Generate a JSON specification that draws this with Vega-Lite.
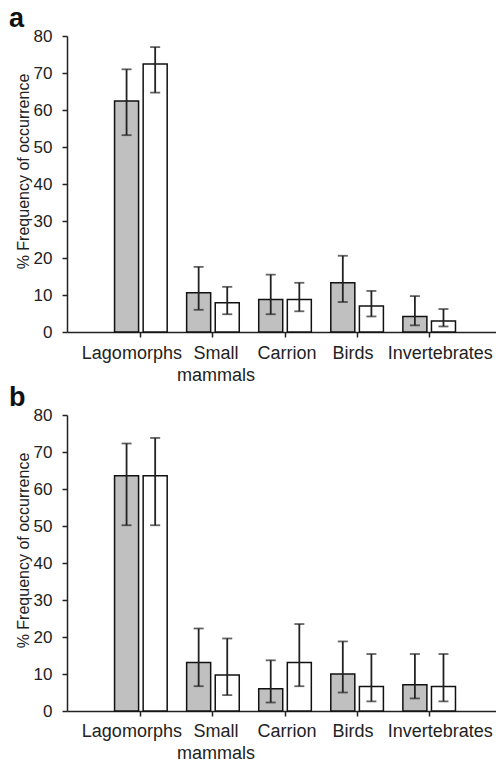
{
  "$schema": "https://vega.github.io/schema/vega-lite/v6.json",
  "padding": {"left": 9, "top": 5, "right": 0, "bottom": 0},
  "autosize": {"type": "pad"},
  "spacing": 0,
  "config": {
    "view": {"stroke": null},
    "font": "Liberation Sans",
    "axis": {"domainColor": "#222", "tickColor": "#222", "labelColor": "#222", "titleColor": "#222", "grid": false, "domainWidth": 1.5, "tickWidth": 1.5, "labelFont": "Liberation Sans", "titleFont": "Liberation Sans", "titleFontWeight": "normal", "labelOverlap": false},
    "axisY": {"tickCount": 10, "tickSize": 5, "labelFontSize": 17, "titleFontSize": 16, "labelPadding": 10, "titlePadding": 2, "labelOverlap": false, "titleY": 135},
    "title": {"anchor": "start", "fontSize": 27, "fontWeight": "bold", "font": "Liberation Sans", "color": "#111", "dx": -6, "offset": -6}
  },
  "datasets": {
    "d": [
      {"panel": "a", "cat": "Lagomorphs", "group": "grey", "value": 62.4, "lo": 53.2, "hi": 71.0},
      {"panel": "a", "cat": "Lagomorphs", "group": "white", "value": 72.4, "lo": 64.7, "hi": 77.0},
      {"panel": "a", "cat": "Small mammals", "group": "grey", "value": 10.6, "lo": 6.0, "hi": 17.6},
      {"panel": "a", "cat": "Small mammals", "group": "white", "value": 7.9, "lo": 4.8, "hi": 12.2},
      {"panel": "a", "cat": "Carrion", "group": "grey", "value": 8.8, "lo": 4.8, "hi": 15.5},
      {"panel": "a", "cat": "Carrion", "group": "white", "value": 8.8, "lo": 5.6, "hi": 13.3},
      {"panel": "a", "cat": "Birds", "group": "grey", "value": 13.3, "lo": 8.1, "hi": 20.6},
      {"panel": "a", "cat": "Birds", "group": "white", "value": 7.0, "lo": 4.2, "hi": 11.1},
      {"panel": "a", "cat": "Invertebrates", "group": "grey", "value": 4.2, "lo": 1.8, "hi": 9.7},
      {"panel": "a", "cat": "Invertebrates", "group": "white", "value": 3.0, "lo": 1.5, "hi": 6.2},
      {"panel": "b", "cat": "Lagomorphs", "group": "grey", "value": 63.6, "lo": 50.2, "hi": 72.3},
      {"panel": "b", "cat": "Lagomorphs", "group": "white", "value": 63.6, "lo": 50.2, "hi": 73.8},
      {"panel": "b", "cat": "Small mammals", "group": "grey", "value": 13.1, "lo": 6.7, "hi": 22.3},
      {"panel": "b", "cat": "Small mammals", "group": "white", "value": 9.7, "lo": 4.3, "hi": 19.6},
      {"panel": "b", "cat": "Carrion", "group": "grey", "value": 6.0, "lo": 2.3, "hi": 13.7},
      {"panel": "b", "cat": "Carrion", "group": "white", "value": 13.1, "lo": 6.7, "hi": 23.5},
      {"panel": "b", "cat": "Birds", "group": "grey", "value": 10.0, "lo": 5.0, "hi": 18.8},
      {"panel": "b", "cat": "Birds", "group": "white", "value": 6.6, "lo": 2.6, "hi": 15.4},
      {"panel": "b", "cat": "Invertebrates", "group": "grey", "value": 7.1, "lo": 3.4, "hi": 15.4},
      {"panel": "b", "cat": "Invertebrates", "group": "white", "value": 6.6, "lo": 2.6, "hi": 15.4}
    ]
  },
  "vconcat": [
    {
      "title": {"text": "a"},
      "width": 429, "height": 296,
      "data": {"name": "d"},
      "transform": [{"filter": "datum.panel == 'a'"}],
      "encoding": {
        "x": {"field": "cat", "type": "nominal", "sort": ["Lagomorphs", "Small mammals", "Carrion", "Birds", "Invertebrates"],
              "scale": {"paddingInner": 0.27, "paddingOuter": 0.611, "align": 0.54},
              "axis": {"title": null, "labelAngle": 0, "labelFontSize": 18, "labelExpr": "split(datum.label, ' ')", "tickSize": 5, "labelPadding": 7, "labelLineHeight": 22,
                       "labelOffset": {"condition": [{"test": "datum.value == 'Lagomorphs'", "value": -9}, {"test": "datum.value == 'Small mammals'", "value": 3}, {"test": "datum.value == 'Carrion'", "value": 2}, {"test": "datum.value == 'Birds'", "value": -4}], "value": 11}}},
        "xOffset": {"field": "group", "type": "nominal", "sort": ["grey", "white"], "scale": {"paddingInner": 0.16}}
      },
      "layer": [
        {"mark": {"type": "bar", "stroke": "#111", "strokeWidth": 1.5},
         "encoding": {
           "y": {"field": "value", "type": "quantitative", "scale": {"domain": [0, 80], "nice": false},
                 "axis": {"title": "% Frequency of occurrence", "values": [0, 10, 20, 30, 40, 50, 60, 70, 80]}},
           "fill": {"field": "group", "type": "nominal", "scale": {"domain": ["grey", "white"], "range": ["#c0c0c0", "#ffffff"]}, "legend": null}
         }},
        {"mark": {"type": "rule", "color": "#222", "strokeWidth": 1.8},
         "encoding": {"y": {"field": "lo", "type": "quantitative", "axis": {"title": "% Frequency of occurrence", "values": [0, 10, 20, 30, 40, 50, 60, 70, 80]}}, "y2": {"field": "hi"}}},
        {"mark": {"type": "tick", "color": "#222", "thickness": 1.8, "size": 10},
         "encoding": {"y": {"field": "lo", "type": "quantitative", "axis": {"title": "% Frequency of occurrence", "values": [0, 10, 20, 30, 40, 50, 60, 70, 80]}}}},
        {"mark": {"type": "tick", "color": "#222", "thickness": 1.8, "size": 10},
         "encoding": {"y": {"field": "hi", "type": "quantitative", "axis": {"title": "% Frequency of occurrence", "values": [0, 10, 20, 30, 40, 50, 60, 70, 80]}}}}
      ]
    },
    {
      "title": {"text": "b"},
      "width": 429, "height": 296,
      "data": {"name": "d"},
      "transform": [{"filter": "datum.panel == 'b'"}],
      "encoding": {
        "x": {"field": "cat", "type": "nominal", "sort": ["Lagomorphs", "Small mammals", "Carrion", "Birds", "Invertebrates"],
              "scale": {"paddingInner": 0.27, "paddingOuter": 0.611, "align": 0.54},
              "axis": {"title": null, "labelAngle": 0, "labelFontSize": 18, "labelExpr": "split(datum.label, ' ')", "tickSize": 5, "labelPadding": 6, "labelLineHeight": 22,
                       "labelOffset": {"condition": [{"test": "datum.value == 'Lagomorphs'", "value": -9}, {"test": "datum.value == 'Small mammals'", "value": 3}, {"test": "datum.value == 'Carrion'", "value": 2}, {"test": "datum.value == 'Birds'", "value": -4}], "value": 11}}},
        "xOffset": {"field": "group", "type": "nominal", "sort": ["grey", "white"], "scale": {"paddingInner": 0.16}}
      },
      "layer": [
        {"mark": {"type": "bar", "stroke": "#111", "strokeWidth": 1.5},
         "encoding": {
           "y": {"field": "value", "type": "quantitative", "scale": {"domain": [0, 80], "nice": false},
                 "axis": {"title": "% Frequency of occurrence", "values": [0, 10, 20, 30, 40, 50, 60, 70, 80]}},
           "fill": {"field": "group", "type": "nominal", "scale": {"domain": ["grey", "white"], "range": ["#c0c0c0", "#ffffff"]}, "legend": null}
         }},
        {"mark": {"type": "rule", "color": "#222", "strokeWidth": 1.8},
         "encoding": {"y": {"field": "lo", "type": "quantitative", "axis": {"title": "% Frequency of occurrence", "values": [0, 10, 20, 30, 40, 50, 60, 70, 80]}}, "y2": {"field": "hi"}}},
        {"mark": {"type": "tick", "color": "#222", "thickness": 1.8, "size": 10},
         "encoding": {"y": {"field": "lo", "type": "quantitative", "axis": {"title": "% Frequency of occurrence", "values": [0, 10, 20, 30, 40, 50, 60, 70, 80]}}}},
        {"mark": {"type": "tick", "color": "#222", "thickness": 1.8, "size": 10},
         "encoding": {"y": {"field": "hi", "type": "quantitative", "axis": {"title": "% Frequency of occurrence", "values": [0, 10, 20, 30, 40, 50, 60, 70, 80]}}}}
      ]
    }
  ]
}
